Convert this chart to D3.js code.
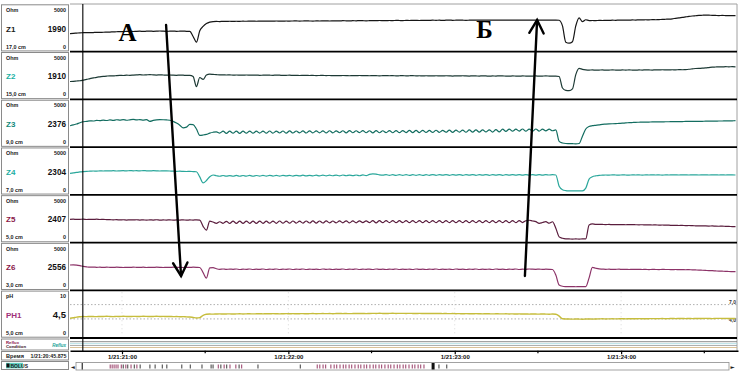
<!DOCTYPE html>
<html><head><meta charset="utf-8">
<script src="https://cdn.jsdelivr.net/npm/d3@7"></script>
<style>html,body{margin:0;padding:0;background:#fff;}svg{display:block;font-family:"Liberation Sans",Arial,sans-serif;}</style>
</head><body><svg id="c" width="742" height="375"></svg>
<script>
// ---------------- DATA ----------------
const channels = ["Z1","Z2","Z3","Z4","Z5","Z6","PH1"];
const units = ["Ohm","Ohm","Ohm","Ohm","Ohm","Ohm","pH"];
const scaleMax = [5000,5000,5000,5000,5000,5000,10];
const scaleMaxLabels = ["5000","5000","5000","5000","5000","5000","10"];
const sensorPos = ["17,0 cm","15,0 cm","9,0 cm","7,0 cm","5,0 cm","3,0 cm","5,0 cm"];
const cursorValues = ["1990","1910","2376","2304","2407","2556","4,5"];
const cursorTimeLabel = "1/21:20:45.875";
const cursorSec = 45.875;              // seconds after 21:20:00
const sampleStart = 41.25;             // seconds after 21:20:00
const sampleStep = 1.2;                // seconds between samples
const majorTicks = [60,120,180,240];   // seconds after 21:20:00
const minorTicks = [90,150,210,270];
const phRefLines = [7,4];
const phRefLabels = ["7,0","4,0"];

const z1 = [1900,1920,1950,1980,1990,2000,1990,2010,2030,2020,
2040,2050,2060,2080,2090,2110,2100,2130,2140,2120,
2140,2150,2130,2150,2160,2140,2150,2170,2150,2140,
2150,2160,2140,2150,2160,2140,2140,1600,1000,2200,
2650,2950,3100,3160,3170,3160,3180,3170,3190,3180,
3190,3180,3200,3190,3200,3210,3190,3200,3210,3200,
3210,3200,3220,3210,3200,3220,3210,3220,3230,3210,
3220,3230,3220,3210,3230,3220,3230,3240,3220,3230,
3240,3230,3250,3240,3230,3250,3240,3260,3250,3240,
3250,3260,3250,3270,3260,3250,3270,3260,3280,3270,
3260,3280,3270,3290,3280,3270,3290,3280,3290,3300,
3290,3300,3280,3300,3310,3290,3300,3310,3300,3290,
3300,3310,3320,3300,3310,3320,3300,3310,3320,3310,
3300,3320,3310,3300,3320,3310,3320,3300,3310,3320,
3310,3300,3320,3310,3300,3310,3320,3300,2700,1000,
900,1050,2700,3550,3150,3350,3260,3270,3260,3280,
3270,3290,3280,3300,3290,3310,3300,3320,3310,3330,
3320,3340,3330,3350,3340,3360,3350,3370,3380,3400,
3420,3450,3500,3540,3600,3650,3700,3740,3770,3800,
3820,3840,3830,3810,3800,3790,3800,3790,3780,3790,
3790];
const z2 = [1880,1900,1930,1960,2030,2100,2180,2250,2320,2370,
2420,2450,2470,2460,2500,2520,2510,2540,2530,2550,
2570,2590,2560,2580,2600,2570,2550,2580,2560,2540,
2560,2540,2530,2550,2540,2520,2530,2400,1350,2300,
2100,2550,2650,2620,2590,2570,2580,2560,2570,2550,
2560,2550,2540,2560,2550,2540,2550,2530,2540,2550,
2540,2530,2550,2540,2520,2530,2540,2520,2530,2510,
2520,2530,2510,2520,2500,2510,2520,2500,2510,2490,
2500,2490,2510,2500,2480,2500,2490,2510,2500,2490,
2480,2500,2490,2470,2490,2500,2480,2490,2470,2480,
2490,2470,2480,2490,2470,2480,2460,2480,2470,2460,
2480,2470,2460,2480,2470,2450,2470,2460,2480,2460,
2450,2470,2460,2450,2470,2460,2440,2460,2450,2470,
2460,2450,2440,2460,2450,2440,2460,2450,2440,2450,
2460,2440,2450,2460,2450,2440,2450,2400,1200,950,
920,1100,2600,3250,3150,3100,3080,3090,3070,3080,
3090,3070,3080,3090,3080,3070,3090,3080,3090,3080,
3070,3090,3080,3100,3090,3080,3100,3090,3110,3100,
3090,3110,3100,3120,3110,3130,3160,3200,3240,3260,
3270,3300,3340,3380,3400,3420,3410,3430,3420,3430,
3420];
const z3 = [2240,2330,2430,2560,2660,2700,2760,2740,2800,2780,
2830,2790,2850,2800,2870,2830,2880,2820,2860,2900,
2850,2890,2840,2880,2700,2800,2860,2880,2870,2850,
2820,2700,2520,2300,2020,2100,2380,2360,1900,1230,
1270,1340,1470,1560,1610,1470,1670,1450,1670,1460,
1680,1450,1670,1460,1680,1460,1670,1470,1680,1460,
1690,1470,1680,1480,1690,1470,1700,1480,1690,1490,
1700,1480,1710,1490,1700,1500,1710,1490,1720,1500,
1710,1510,1720,1500,1730,1510,1720,1520,1730,1510,
1720,1500,1730,1510,1720,1520,1730,1510,1740,1520,
1740,1530,1750,1520,1750,1530,1760,1540,1750,1540,
1770,1550,1760,1560,1780,1550,1780,1570,1790,1560,
1800,1580,1810,1570,1820,1590,1820,1580,1830,1600,
1880,1660,1890,1670,1880,1680,1900,1670,1890,1680,
1900,1680,1890,1700,1880,1720,1800,600,430,380,
370,360,350,380,1150,1900,2170,2250,2290,2330,
2390,2410,2430,2450,2470,2490,2510,2540,2560,2580,
2600,2610,2620,2620,2630,2640,2640,2650,2650,2660,
2660,2670,2670,2680,2680,2690,2690,2700,2700,2710,
2710,2720,2720,2730,2730,2740,2740,2750,2750,2760,
2770];
const z4 = [2260,2300,2360,2400,2440,2470,2480,2500,2490,2510,
2500,2520,2510,2530,2500,2520,2530,2510,2540,2520,
2530,2510,2540,2520,2510,2530,2520,2500,2520,2510,
2500,2490,2470,2480,2460,2450,2460,2440,2420,1880,
1260,1500,1900,2080,2000,1950,2030,1960,2020,1950,
2040,1950,2030,1960,2040,1950,2030,1970,2040,1960,
2050,1970,2040,1960,2050,1980,2040,1970,2050,1980,
2060,1980,2050,1990,2060,1980,2070,1990,2060,2000,
2070,1990,2080,2000,2070,2010,2080,2000,2090,2020,
2150,2200,2180,2100,2060,2120,2050,2110,2040,2120,
2050,2120,2040,2110,2050,2120,2040,2110,2050,2130,
2050,2120,2060,2130,2050,2120,2060,2130,2050,2120,
2060,2130,2050,2120,2060,2130,2050,2120,2060,2130,
2050,2120,2070,2130,2060,2120,2070,2130,2060,2120,
2070,2130,2060,2120,2080,2110,2080,900,540,450,
420,410,410,420,410,700,1650,1900,1990,2050,
2060,2080,2070,2090,2080,2070,2090,2080,2070,2090,
2080,2090,2070,2090,2080,2100,2080,2090,2070,2090,
2080,2100,2090,2080,2100,2090,2080,2100,2090,2080,
2090,2100,2080,2090,2100,2080,2090,2080,2100,2090,
2080];
const z5 = [2440,2450,2430,2440,2450,2420,2440,2430,2450,2420,
2430,2410,2400,2380,2400,2370,2390,2360,2380,2370,
2390,2360,2380,2350,2380,2360,2390,2350,2370,2360,
2380,2350,2370,2360,2380,2350,2370,2360,2380,2350,
1700,1300,2250,2150,2020,2180,2020,2230,2010,2240,
2020,2240,2010,2250,2020,2240,2010,2250,2020,2240,
2030,2250,2020,2260,2030,2250,2030,2260,2040,2250,
2040,2260,2050,2270,2040,2260,2050,2270,2060,2260,
2060,2270,2070,2280,2060,2270,2070,2280,2080,2280,
2080,2300,2070,2290,2080,2300,2090,2300,2080,2290,
2090,2300,2080,2310,2090,2300,2080,2310,2090,2300,
2090,2310,2080,2300,2090,2310,2080,2300,2090,2310,
2080,2300,2090,2310,2080,2300,2090,2310,2080,2300,
2090,2310,2080,2300,2090,2310,2100,2290,2340,2260,
2200,2020,2100,2190,2030,2180,1500,600,450,390,
380,370,380,370,380,380,1850,1950,1900,1910,
1900,1890,1900,1880,1890,1880,1890,1870,1880,1880,
1870,1860,1870,1850,1860,1840,1850,1830,1840,1820,
1820,1800,1810,1790,1800,1780,1790,1770,1760,1750,
1760,1740,1730,1740,1720,1710,1720,1700,1690,1680,
1670];
const z6 = [2650,2660,2640,2580,2500,2450,2420,2430,2410,2420,
2400,2420,2410,2400,2420,2410,2390,2410,2400,2420,
2410,2400,2420,2390,2410,2400,2420,2410,2390,2410,
2400,2420,2410,2400,2390,2410,2400,2420,2410,2390,
1850,1280,2350,2380,2260,2200,2230,2190,2220,2200,
2230,2180,2220,2190,2230,2180,2210,2190,2230,2180,
2220,2190,2230,2180,2210,2200,2230,2180,2220,2190,
2230,2180,2220,2190,2210,2180,2230,2190,2220,2180,
2210,2190,2230,2180,2220,2190,2230,2180,2210,2200,
2220,2180,2230,2190,2210,2180,2220,2190,2230,2180,
2210,2190,2220,2180,2230,2190,2210,2180,2220,2190,
2230,2180,2210,2190,2220,2180,2230,2190,2210,2180,
2220,2190,2230,2180,2210,2190,2220,2180,2230,2190,
2210,2180,2220,2190,2230,2180,2210,2200,2230,2210,
2200,2220,2190,2210,2200,2180,1600,550,420,390,
380,380,370,380,380,380,1300,2400,2310,2240,
2220,2200,2210,2190,2200,2210,2190,2200,2180,2200,
2190,2200,2180,2190,2170,2190,2180,2170,2190,2180,
2180,2170,2180,2160,2170,2150,2160,2140,2130,2120,
2100,2080,2060,2050,2030,2010,2000,1990,1970,1960,
1950];
const ph1 = [4.13,4.25,4.38,4.45,4.5,4.48,4.52,4.5,4.47,4.52,
4.5,4.55,4.5,4.48,4.53,4.5,4.55,4.52,4.5,4.54,
4.52,4.5,4.55,4.53,4.5,4.52,4.55,4.5,4.53,4.5,
4.52,4.48,4.5,4.45,4.47,4.42,4.4,4.3,4.2,4.28,
4.75,4.97,5.02,5.0,5.03,5.05,5.02,5.04,5.06,5.03,
5.05,5.07,5.04,5.06,5.08,5.05,5.07,5.09,5.06,5.08,
5.07,5.1,5.08,5.06,5.09,5.11,5.08,5.1,5.07,5.09,
5.11,5.08,5.1,5.12,5.09,5.11,5.13,5.1,5.12,5.09,
5.12,5.14,5.11,5.13,5.1,5.12,5.15,5.12,5.14,5.11,
5.15,5.17,5.14,5.18,5.15,5.13,5.16,5.18,5.15,5.17,
5.16,5.14,5.17,5.15,5.13,5.16,5.14,5.12,5.15,5.13,
5.12,5.14,5.11,5.13,5.1,5.12,5.09,5.11,5.08,5.1,
5.09,5.07,5.1,5.08,5.06,5.09,5.07,5.05,5.08,5.06,
5.05,5.07,5.04,5.06,5.03,5.05,5.02,5.04,5.01,5.03,
5.02,5.0,5.03,5.01,4.99,5.02,4.98,4.6,4.02,3.98,
3.97,3.95,3.98,3.96,3.94,3.97,3.99,3.96,3.98,4.0,
4.02,3.99,4.01,4.03,4.0,4.02,4.04,4.01,4.03,4.05,
4.03,4.06,4.04,4.02,4.05,4.07,4.04,4.06,4.08,4.05,
4.07,4.09,4.06,4.08,4.1,4.07,4.09,4.06,4.08,4.1,
4.08,4.11,4.09,4.07,4.1,4.12,4.09,4.11,4.08,4.1,
4.09];

// annotations: arrows [seconds, channel, value]
const arrowA = {from:[75.9,"Z1",2800], to:[81.3,"Z6",1500]};
const arrowB = {from:[205.3,"Z6",1500], to:[209.7,"Z1",3320]};
const labelA = {text:"А", sec:62.0, ch:"Z1", val:1120};
const labelB = {text:"Б", sec:190.7, ch:"Z1", val:1440};

// overview bar event marks (percent of recording)
const marksMaroon = [5.1,5.4,5.7,6.0,6.3,6.8,7.5,8.3,9.2,21.7,22.6,23.5,24.4,25.3,36.9,37.3,37.8,38.2,39.0,39.5,39.9,40.4,40.9,41.3,41.8,42.2,42.7,43.2,43.6,44.1,44.5,45.0,45.5,45.9,46.4,46.8,47.3,47.8,48.2,48.7,49.2,49.6,50.1,50.5,51.0,51.5,51.9,52.4,52.8,53.3];
const marksBlack = [7.1,7.8,8.8,9.7,11.2,12.0,13.1,13.8,16.1,17.4,19.2,20.6,20.9,22.1,23.0,24.9,27.8,34.3,55.6,56.8];
const overviewCursor = 0.8, overviewThumb = 54.7;

// ---------------- DRAW ----------------
const series = [z1,z2,z3,z4,z5,z6,ph1];
const traceColors = ["#161616","#1d3a35","#136d60","#2aa79b","#5a1d3d","#8c3368","#c6bd3c"];
const nameColors = ["#202020","#19b0a3","#11887a","#22ada2","#8a1747","#8a1747","#a0307a"];
const svg = d3.select("#c");
const plotL = 70, plotR = 738, plotT = 4, plotB = 338;
const x = d3.scaleLinear().domain([41.25, 282.15]).range([plotL, plotR]);
const band = d3.scaleBand().domain(channels).range([plotT, plotB]);
const bw = band.bandwidth();
const yS = {};
channels.forEach((c,i)=>{ const t = band(c); yS[c] = d3.scaleLinear().domain([0, scaleMax[i]]).range([t+bw, t]); });

svg.append("defs").append("clipPath").attr("id","clip")
  .append("rect").attr("x",plotL).attr("y",plotT).attr("width",737-plotL).attr("height",plotB-plotT);

// pH reference lines & grid
const phY = yS["PH1"];
svg.append("g").selectAll("line").data(phRefLines).join("line")
  .attr("x1",plotL).attr("x2",737).attr("y1",d=>phY(d)).attr("y2",d=>phY(d))
  .attr("stroke","#9a9a9a").attr("stroke-width",0.8).attr("stroke-dasharray","1.5,2");
svg.append("g").selectAll("line").data(majorTicks).join("line")
  .attr("x1",d=>x(d)).attr("x2",d=>x(d)).attr("y1",band("PH1")+2).attr("y2",plotB-2)
  .attr("stroke","#c8c8c8").attr("stroke-width",0.7).attr("stroke-dasharray","1,3");
svg.append("g").selectAll("text").data(phRefLabels).join("text")
  .attr("x",736).attr("y",(d,i)=>phY(phRefLines[i])+(i?3:-1)).attr("text-anchor","end")
  .attr("font-size",5).attr("font-weight","bold").attr("fill","#333").text(d=>d);

// traces
const gTr = svg.append("g").attr("clip-path","url(#clip)");
channels.forEach((c,i)=>{
  const line = d3.line().curve(d3.curveMonotoneX).x((d,j)=>x(sampleStart + j*sampleStep)).y(d=>yS[c](d));
  gTr.append("path").datum(series[i]).attr("d",line).attr("fill","none")
    .attr("stroke",traceColors[i]).attr("stroke-width", i===6?1.4:1.2).attr("stroke-linejoin","round");
});

// frame & separators
svg.append("line").attr("x1",plotL).attr("x2",737).attr("y1",plotT).attr("y2",plotT).attr("stroke","#a0a0a0").attr("stroke-width",1);
svg.append("line").attr("x1",737).attr("x2",737).attr("y1",plotT).attr("y2",351).attr("stroke","#a0a0a0").attr("stroke-width",1);
svg.append("g").selectAll("line").data(channels).join("line")
  .attr("x1",plotL).attr("x2",737).attr("y1",c=>band(c)+bw).attr("y2",c=>band(c)+bw)
  .attr("stroke","#000").attr("stroke-width",1.8);
const rowLines = [[341.7,"#6f6f6f"],[343.7,"#9fd6de"],[345.5,"#9a9a9a"],[347.5,"#d2b27e"]];
svg.append("g").selectAll("line").data(rowLines).join("line")
  .attr("x1",plotL).attr("x2",737).attr("y1",d=>d[0]).attr("y2",d=>d[0]).attr("stroke",d=>d[1]).attr("stroke-width",0.8);

// time axis
const fmt = s => { const m = 20 + Math.floor(s/60), ss = Math.round(s%60); return "1/21:"+m+":"+String(ss).padStart(2,"0"); };
const axG = svg.append("g").attr("transform","translate(0,350.7)")
  .call(d3.axisBottom(x).tickValues(majorTicks).tickSize(3.5).tickSizeOuter(0).tickPadding(0.8).tickFormat(fmt));
axG.select(".domain").attr("stroke","#000").attr("stroke-width",1.6);
axG.selectAll("text").attr("font-size",6).attr("font-weight","bold").attr("fill","#111").attr("font-family","Liberation Sans, Arial");
axG.selectAll(".tick line").attr("stroke","#000").attr("stroke-width",1.2);
svg.append("g").selectAll("line").data(minorTicks).join("line")
  .attr("x1",d=>x(d)).attr("x2",d=>x(d)).attr("y1",350.7).attr("y2",353.2).attr("stroke","#000").attr("stroke-width",1.2);

// cursor
svg.append("line").attr("x1",x(cursorSec)).attr("x2",x(cursorSec)).attr("y1",plotT).attr("y2",352)
  .attr("stroke","#000").attr("stroke-width",1.1);

// left label panel
const lp = svg.append("g");
channels.forEach((c,i)=>{
  const t = band(c);
  lp.append("rect").attr("x",1.5).attr("y",t+0.8).attr("width",67).attr("height",bw-1.6)
    .attr("fill","#fff").attr("stroke","#8a8a8a").attr("stroke-width",1);
  lp.append("text").attr("x",6).attr("y",t+8).attr("font-size",5.4).attr("font-weight","bold").attr("fill","#1a1a1a").text(units[i]);
  lp.append("text").attr("x",66).attr("y",t+8).attr("text-anchor","end").attr("font-size",5.4).attr("font-weight","bold").attr("fill","#1a1a1a").text(scaleMaxLabels[i]);
  lp.append("text").attr("x",6).attr("y",t+27.5).attr("font-size",8).attr("font-weight","bold").attr("fill",nameColors[i]).text(c);
  lp.append("text").attr("x",66).attr("y",t+27.5).attr("text-anchor","end").attr("font-size",i===6?9.5:8.2).attr("font-weight","bold").attr("fill","#111").text(cursorValues[i]);
  lp.append("text").attr("x",6).attr("y",t+44.5).attr("font-size",5.4).attr("font-weight","bold").attr("fill","#1a1a1a").text(sensorPos[i]);
  lp.append("text").attr("x",66).attr("y",t+44.5).attr("text-anchor","end").attr("font-size",5.4).attr("font-weight","bold").attr("fill","#1a1a1a").text("0");
});
lp.append("rect").attr("x",1.5).attr("y",339).attr("width",67).attr("height",11).attr("fill","#fff").attr("stroke","#8a8a8a");
lp.append("text").attr("x",6).attr("y",343.5).attr("font-size",4.3).attr("font-weight","bold").attr("fill","#8a1747").text("Reflux");
lp.append("text").attr("x",6).attr("y",348.3).attr("font-size",4.3).attr("font-weight","bold").attr("fill","#3a1020").text("Condition");
lp.append("text").attr("x",66).attr("y",346.5).attr("text-anchor","end").attr("font-size",4.5).attr("font-weight","bold").attr("font-style","italic").attr("fill","#1aa397").text("Reflux");
lp.append("rect").attr("x",1.5).attr("y",351.5).attr("width",67).attr("height",8.5).attr("fill","#fff").attr("stroke","#8a8a8a");
lp.append("text").attr("x",6).attr("y",358).attr("font-size",5.6).attr("font-weight","bold").attr("fill","#222").text("Время");
lp.append("text").attr("x",66.5).attr("y",358).attr("text-anchor","end").attr("font-size",5.3).attr("font-weight","bold").attr("fill","#222").text(cursorTimeLabel);
lp.append("rect").attr("x",1.5).attr("y",361.5).attr("width",67).attr("height",8).attr("fill","#fff").attr("stroke","#8a8a8a");
lp.append("rect").attr("x",6).attr("y",362.8).attr("width",17).attr("height",5.6).attr("fill","#5fd0c4");
lp.append("rect").attr("x",6.5).attr("y",363.5).attr("width",3).attr("height",4).attr("fill","#111");
lp.append("text").attr("x",10.5).attr("y",367.8).attr("font-size",5).attr("font-weight","bold").attr("fill","#222").text("BOLUS");

// overview bar
const ov = d3.scaleLinear().domain([0,100]).range([77,728]);
const og = svg.append("g");
og.append("rect").attr("x",76).attr("y",362.5).attr("width",653).attr("height",7.5).attr("fill","#fff").attr("stroke","#8c8c8c").attr("stroke-width",0.8);
og.append("text").attr("x",70.5).attr("y",368.6).attr("font-size",5.5).attr("font-family","DejaVu Sans").attr("fill","#222").text("◄");
og.append("text").attr("x",730.5).attr("y",368.6).attr("font-size",5.5).attr("font-family","DejaVu Sans").attr("fill","#222").text("►");
og.selectAll(".mr").data(marksMaroon).join("line").attr("class","mr")
  .attr("x1",d=>ov(d)).attr("x2",d=>ov(d)).attr("y1",364.5).attr("y2",368.5).attr("stroke","#8a2352").attr("stroke-width",0.9);
og.selectAll(".mb").data(marksBlack).join("line").attr("class","mb")
  .attr("x1",d=>ov(d)).attr("x2",d=>ov(d)).attr("y1",364.5).attr("y2",368.5).attr("stroke","#222").attr("stroke-width",0.9);
og.append("line").attr("x1",ov(overviewCursor)).attr("x2",ov(overviewCursor)).attr("y1",363).attr("y2",369.5).attr("stroke","#000").attr("stroke-width",1);
og.append("rect").attr("x",ov(overviewThumb)-1.5).attr("y",363).attr("width",3).attr("height",6.5).attr("fill","#111");

// arrows
function drawArrow(a){
  const x1 = x(a.from[0]), y1 = yS[a.from[1]](a.from[2]);
  const x2 = x(a.to[0]), y2 = yS[a.to[1]](a.to[2]);
  const ang = Math.atan2(y2-y1, x2-x1), L = 15, sp = 0.5;
  const p1 = [x2 - L*Math.cos(ang-sp), y2 - L*Math.sin(ang-sp)];
  const p2 = [x2 - L*Math.cos(ang+sp), y2 - L*Math.sin(ang+sp)];
  const g = svg.append("g").attr("stroke","#000").attr("stroke-width",2.4).attr("fill","none").attr("stroke-linecap","round");
  g.append("line").attr("x1",x1).attr("y1",y1).attr("x2",x2).attr("y2",y2);
  g.append("path").attr("d",`M${p1[0]},${p1[1]}L${x2},${y2}L${p2[0]},${p2[1]}`).attr("stroke-linejoin","miter");
}
drawArrow(arrowA); drawArrow(arrowB);
[labelA,labelB].forEach(l=>{
  svg.append("text").attr("x",x(l.sec)).attr("y",yS[l.ch](l.val)).attr("text-anchor","middle")
    .attr("font-family","Liberation Serif, Times New Roman, serif").attr("font-weight","bold").attr("font-size",25)
    .attr("fill","#000").text(l.text);
});
</script></body></html>
